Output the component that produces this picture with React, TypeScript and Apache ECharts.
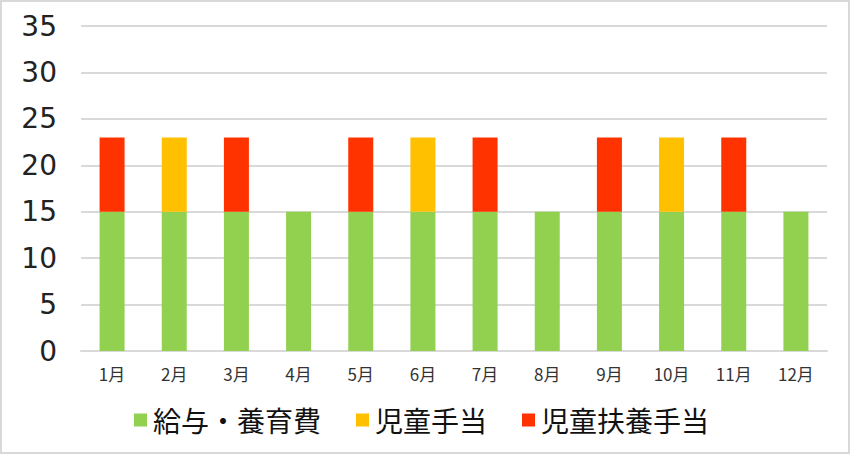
import React, { useEffect, useRef } from "react";
import * as echarts from "echarts";

const categories = ["1月", "2月", "3月", "4月", "5月", "6月", "7月", "8月", "9月", "10月", "11月", "12月"];
const seriesNames = ["給与・養育費", "児童手当", "児童扶養手当"];
const salaryValues = [15, 15, 15, 15, 15, 15, 15, 15, 15, 15, 15, 15];
const childAllowance = [null, 8, null, null, null, 8, null, null, null, 8, null, null];
const childSupport = [8, null, 8, null, 8, null, 8, null, 8, null, 8, null];
const colors = ["#92D050", "#FFC000", "#FF3300"];

export default function App() {
  const ref = useRef<HTMLDivElement>(null);
  useEffect(() => {
    const chart = echarts.init(ref.current!, null, { renderer: "svg" });
    const cjk = "'Noto Sans CJK JP', 'Noto Sans', sans-serif";
    chart.setOption({
      animation: false,
      backgroundColor: "#ffffff",
      color: colors,
      graphic: [
        {
          type: "rect",
          shape: { x: 1, y: 1, width: 848, height: 452 },
          style: { fill: "none", stroke: "#d9d9d9", lineWidth: 2 },
          silent: true,
        },
      ],
      grid: { left: 81, right: 24, top: 26, bottom: 104, containLabel: false },
      legend: {
        data: seriesNames,
        top: 406,
        left: 134,
        padding: 0,
        itemWidth: 13,
        itemHeight: 13,
        itemGap: 35,
        icon: "rect",
        textStyle: { fontSize: 28, color: "#111", fontFamily: cjk, padding: [0, 0, 0, 1] },
      },
      xAxis: {
        type: "category",
        data: categories,
        axisLine: { lineStyle: { color: "#d9d9d9", width: 2 } },
        axisTick: { show: false },
        axisLabel: { fontSize: 17, color: "#333", margin: 14, fontFamily: cjk },
      },
      yAxis: {
        type: "value",
        min: 0,
        max: 35,
        interval: 5,
        axisLine: { show: false },
        axisTick: { show: false },
        splitLine: { lineStyle: { color: "#d9d9d9", width: 2 } },
        axisLabel: { fontSize: 28, color: "#222", margin: 24, fontFamily: "'DejaVu Sans', sans-serif" },
      },
      series: [
        { name: seriesNames[0], type: "bar", stack: "total", data: salaryValues, barWidth: 25 },
        { name: seriesNames[1], type: "bar", stack: "total", data: childAllowance, barWidth: 25 },
        { name: seriesNames[2], type: "bar", stack: "total", data: childSupport, barWidth: 25 },
      ],
    });
    return () => chart.dispose();
  }, []);
  return <div ref={ref} style={{ position: "fixed", left: 0, top: 0, width: 851, height: 455 }} />;
}
